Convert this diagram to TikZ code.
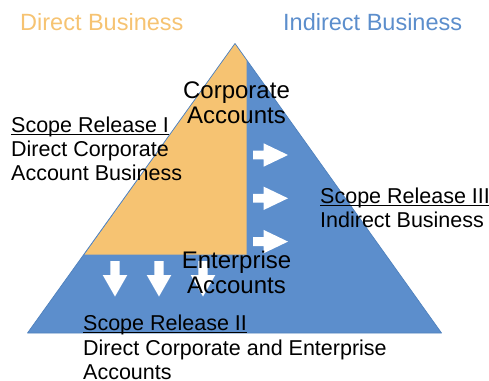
\documentclass[tikz,border=0pt]{standalone}
\usepackage{fontspec}
\setmainfont{Liberation Sans}
\begin{document}
\definecolor{pyrblue}{RGB}{92,142,204}
\definecolor{pyredge}{RGB}{79,129,189}
\definecolor{pyrorange}{RGB}{246,195,114}
\begin{tikzpicture}[x=1pt,y=-1pt,
  title/.style={inner sep=0pt,anchor=base west,font=\fontsize{23.5}{27}\selectfont},
  body/.style={inner sep=0pt,anchor=base west,font=\fontsize{21.5}{24.5}\selectfont},
  mid/.style={inner sep=0pt,anchor=base,font=\fontsize{24}{27}\selectfont},
  uline/.style={line width=1.1pt},
  rarrow/.pic={\fill[white] (0,-4.4) -- (10.6,-4.4) -- (10.6,-11.7) -- (35,0)
     -- (10.6,11.7) -- (10.6,4.4) -- (0,4.4) -- cycle;},
  darrow/.pic={\fill[white] (-4.6,0) -- (4.6,0) -- (4.6,14) -- (12.3,14) -- (0,35.5)
     -- (-12.3,14) -- (-4.6,14) -- cycle;}]
\useasboundingbox (0,0) rectangle (489,380);

% pyramid corners
\coordinate (apex) at (235,43.5);
\coordinate (bl) at (27.5,333);
\coordinate (br) at (441.5,333);

% whole pyramid in blue, direct-business wedge in orange
\fill[pyrblue] (apex) -- (br) -- (bl) -- cycle;
\fill[pyrorange] (apex) -- (246.7,60.3) -- (246.7,254.5) -- (84.5,254.5) -- cycle;
\draw[pyredge,line width=0.7pt,line join=round] (apex) -- (br) -- (bl) -- cycle;

% white block arrows
\foreach \yy in {155,198.3,241.6} \pic at (253,\yy) {rarrow};
\foreach \xx in {115,159,203} \pic at (\xx,261) {darrow};

% headings
\node[title,text=pyrorange] (dtitle) at (20,30) {Direct Business};
\node[title,text=pyrblue] (ititle) at (283,30) {Indirect Business};

% segment names
\node[mid] (corp1) at (236.5,98) {Corporate};
\node[mid] (corp2) at (236.5,123) {Accounts};
\node[mid] (ent1) at (236.5,268) {Enterprise};
\node[mid] (ent2) at (236.5,293) {Accounts};

% release I
\node[body] (r1a) at (11,132) {Scope Release I};
\draw[uline] ([yshift=-2.3pt]r1a.base west) -- ([yshift=-2.3pt]r1a.base east);
\node[body] (r1b) at (11,156) {Direct Corporate};
\node[body] (r1c) at (11,180) {Account Business};

% release III
\node[body] (r3a) at (320,203) {Scope Release III};
\draw[uline] ([yshift=-2.3pt]r3a.base west) -- ([yshift=-2.3pt]r3a.base east);
\node[body] (r3b) at (320,227) {Indirect Business};

% release II
\node[body] (r2a) at (83,330) {Scope Release II};
\draw[uline] ([yshift=-2.3pt]r2a.base west) -- ([yshift=-2.3pt]r2a.base east);
\node[body] (r2b) at (83,355) {Direct Corporate and Enterprise};
\node[body] (r2c) at (83,379) {Accounts};
\end{tikzpicture}
\end{document}
